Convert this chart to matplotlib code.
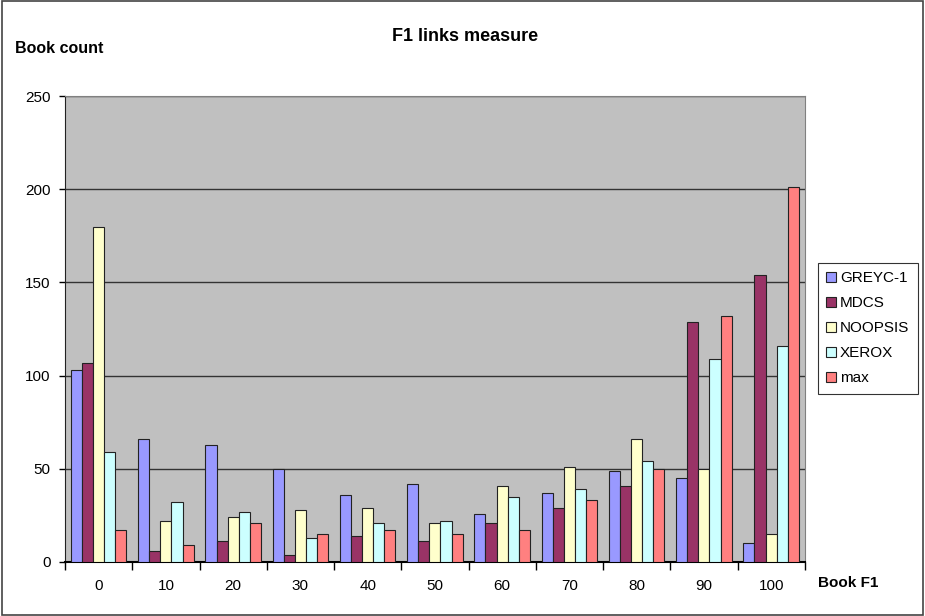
import matplotlib
matplotlib.use("Agg")
import matplotlib.pyplot as plt
import numpy as np
from matplotlib.patches import Rectangle

categories = ["0", "10", "20", "30", "40", "50", "60", "70", "80", "90", "100"]
greyc = [103, 66, 63, 50, 36, 42, 26, 37, 49, 45, 10]
mdcs = [107, 6, 11, 4, 14, 11, 21, 29, 41, 129, 154]
noopsis = [180, 22, 24, 28, 29, 21, 41, 51, 66, 50, 15]
xerox = [59, 32, 27, 13, 21, 22, 35, 39, 54, 109, 116]
max_vals = [17, 9, 21, 15, 17, 15, 17, 33, 50, 132, 201]

series = [
    ("GREYC-1", greyc, "#9999FF"),
    ("MDCS", mdcs, "#993366"),
    ("NOOPSIS", noopsis, "#FFFFCC"),
    ("XEROX", xerox, "#CCFFFF"),
    ("max", max_vals, "#FF8080"),
]

plt.rcParams["font.family"] = ["Liberation Sans", "DejaVu Sans"]

fig = plt.figure(figsize=(9.25, 6.16), dpi=100, facecolor="white")
ax = fig.add_axes([0.0703, 0.0877, 0.7997, 0.7563])
ax.set_facecolor("#C0C0C0")

x = np.arange(len(categories))
w = 0.165
for i, (name, vals, color) in enumerate(series):
    ax.bar(x + (i - 2) * w, vals, width=w, color=color, edgecolor="#222222",
           linewidth=0.8, label=name, zorder=3)

ax.set_xlim(-0.5, len(categories) - 0.5)
ax.set_ylim(0, 250)
ax.set_yticks(range(0, 251, 50))
ax.yaxis.grid(True, color="#333333", linewidth=1.0, zorder=0)
ax.set_axisbelow(True)

# ticks between groups, labels centred on groups
ax.set_xticks(np.arange(-0.5, len(categories), 1.0))
ax.set_xticklabels([])
ax.set_xticks(x, minor=True)
ax.set_xticklabels(categories, minor=True, fontsize=11)
ax.tick_params(axis="x", which="major", length=6, width=1, direction="out")
ax.tick_params(axis="x", which="minor", length=0, pad=12)
ax.tick_params(axis="y", length=4.5, width=1, direction="out", labelsize=11, pad=6)

for side in ["top", "right"]:
    ax.spines[side].set_color("#808080")
ax.spines["left"].set_color("#222222")
ax.spines["bottom"].set_color("#000000")
ax.spines["bottom"].set_linewidth(1.5)

leg = fig.legend(loc="upper left", bbox_to_anchor=(818 / 925, 1 - 263 / 616),
                 fontsize=11, frameon=True, fancybox=False, edgecolor="black",
                 handlelength=0.6, handleheight=0.6, handletextpad=0.3,
                 labelspacing=0.72, borderpad=0.55, borderaxespad=0)
leg.get_frame().set_linewidth(0.8)

fig.text(0.503, 0.941, "F1 links measure", ha="center", va="center",
         fontsize=13, fontweight="bold")
fig.text(0.016, 0.921, "Book count", ha="left", va="center",
         fontsize=11.5, fontweight="bold")
fig.text(0.917, 0.054, "Book F1", ha="center", va="center",
         fontsize=11, fontweight="bold")

fig.patches.append(Rectangle((0.002, 0.002), 0.996, 0.996, transform=fig.transFigure,
                             fill=False, edgecolor="#444444", linewidth=1.2))

plt.savefig("out.png", dpi=100, facecolor="white")
plt.close()
